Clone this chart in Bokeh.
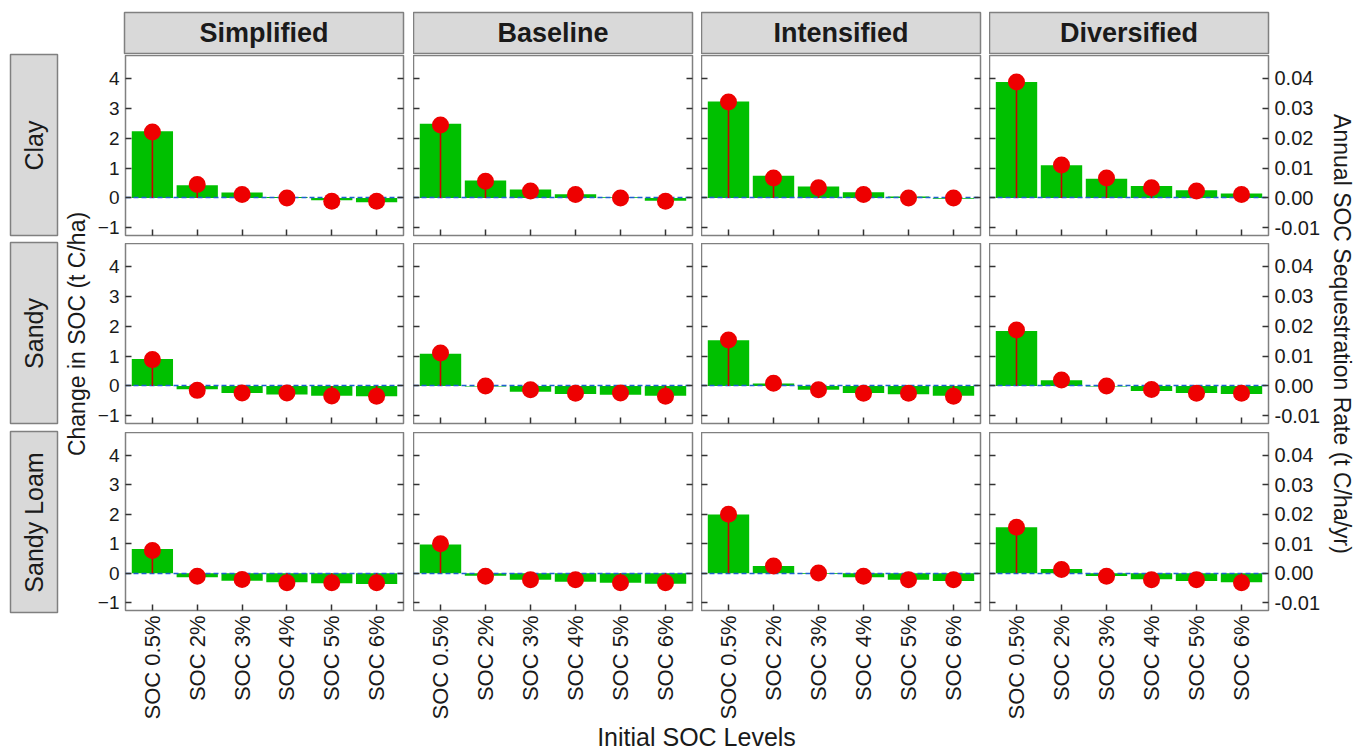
import math
from bokeh.plotting import figure
from bokeh.models import Range1d, FixedTicker, LinearAxis, CustomJSTickFormatter, NumeralTickFormatter
from bokeh.layouts import row, column
from bokeh.embed import file_html
from bokeh.resources import INLINE
from bokeh.core.properties import value

# ---------------- data ----------------
soils = ["Clay", "Sandy", "Sandy Loam"]
systems = ["Simplified", "Baseline", "Intensified", "Diversified"]
soc_levels = ["SOC 0.5%", "SOC 2%", "SOC 3%", "SOC 4%", "SOC 5%", "SOC 6%"]
left_ticks = [-1, 0, 1, 2, 3, 4]
right_ticks = [-0.01, 0.0, 0.01, 0.02, 0.03, 0.04]
y_title = "Change in SOC (t C/ha)"
y2_title = "Annual SOC Sequestration Rate (t C/ha/yr)"
x_title = "Initial SOC Levels"

# change in SOC (t C/ha) -> bars
change_clay_simplified = [2.23, 0.42, 0.18, 0.03, -0.08, -0.15]
change_clay_baseline = [2.48, 0.58, 0.28, 0.12, 0.02, -0.10]
change_clay_intensified = [3.23, 0.74, 0.38, 0.19, 0.05, -0.03]
change_clay_diversified = [3.88, 1.09, 0.64, 0.40, 0.26, 0.15]
change_sandy_simplified = [0.90, -0.11, -0.24, -0.29, -0.33, -0.35]
change_sandy_baseline = [1.08, -0.02, -0.20, -0.27, -0.30, -0.33]
change_sandy_intensified = [1.53, 0.08, -0.13, -0.24, -0.28, -0.33]
change_sandy_diversified = [1.84, 0.19, -0.02, -0.17, -0.24, -0.27]
change_loam_simplified = [0.82, -0.13, -0.25, -0.30, -0.34, -0.36]
change_loam_baseline = [0.98, -0.08, -0.22, -0.29, -0.32, -0.35]
change_loam_intensified = [1.99, 0.25, -0.02, -0.13, -0.22, -0.26]
change_loam_diversified = [1.56, 0.15, -0.09, -0.20, -0.26, -0.30]

# annual SOC sequestration rate (t C/ha/yr) -> red lollipops
rate_clay_simplified = [0.0221, 0.0045, 0.0011, 0.0000, -0.0011, -0.0011]
rate_clay_baseline = [0.0244, 0.0056, 0.0023, 0.0011, 0.0000, -0.0011]
rate_clay_intensified = [0.0321, 0.0067, 0.0034, 0.0011, 0.0000, 0.0000]
rate_clay_diversified = [0.0388, 0.0110, 0.0067, 0.0034, 0.0023, 0.0011]
rate_sandy_simplified = [0.0088, -0.0015, -0.0024, -0.0024, -0.0034, -0.0035]
rate_sandy_baseline = [0.0110, 0.0000, -0.0013, -0.0025, -0.0024, -0.0035]
rate_sandy_intensified = [0.0154, 0.0009, -0.0013, -0.0025, -0.0025, -0.0035]
rate_sandy_diversified = [0.0187, 0.0020, 0.0000, -0.0012, -0.0025, -0.0025]
rate_loam_simplified = [0.0077, -0.0010, -0.0021, -0.0032, -0.0032, -0.0032]
rate_loam_baseline = [0.0100, -0.0010, -0.0022, -0.0022, -0.0032, -0.0032]
rate_loam_intensified = [0.0200, 0.0025, 0.0001, -0.0010, -0.0022, -0.0022]
rate_loam_diversified = [0.0156, 0.0013, -0.0010, -0.0022, -0.0022, -0.0032]

change = {
    ("Clay", "Simplified"): change_clay_simplified, ("Clay", "Baseline"): change_clay_baseline,
    ("Clay", "Intensified"): change_clay_intensified, ("Clay", "Diversified"): change_clay_diversified,
    ("Sandy", "Simplified"): change_sandy_simplified, ("Sandy", "Baseline"): change_sandy_baseline,
    ("Sandy", "Intensified"): change_sandy_intensified, ("Sandy", "Diversified"): change_sandy_diversified,
    ("Sandy Loam", "Simplified"): change_loam_simplified, ("Sandy Loam", "Baseline"): change_loam_baseline,
    ("Sandy Loam", "Intensified"): change_loam_intensified, ("Sandy Loam", "Diversified"): change_loam_diversified,
}
rate = {
    ("Clay", "Simplified"): rate_clay_simplified, ("Clay", "Baseline"): rate_clay_baseline,
    ("Clay", "Intensified"): rate_clay_intensified, ("Clay", "Diversified"): rate_clay_diversified,
    ("Sandy", "Simplified"): rate_sandy_simplified, ("Sandy", "Baseline"): rate_sandy_baseline,
    ("Sandy", "Intensified"): rate_sandy_intensified, ("Sandy", "Diversified"): rate_sandy_diversified,
    ("Sandy Loam", "Simplified"): rate_loam_simplified, ("Sandy Loam", "Baseline"): rate_loam_baseline,
    ("Sandy Loam", "Intensified"): rate_loam_intensified, ("Sandy Loam", "Diversified"): rate_loam_diversified,
}

# ---------------- layout / style ----------------
FONT = "Liberation Sans"
TEXT_COL = "#1a1a1a"
BORDER_COL = "#808080"
FRAME_W, FRAME_H = 279, 180
COL_LEFT = [30, 0, 0, 0]
COL_RIGHT = [10, 9, 9, 55]
ROW_BOTTOM = [8, 9, 110]
STRIP_TOP, STRIP_H, STRIP_BOTTOM = 12, 41, 2
LEFT_W, RIGHT_W, TITLE_H = 94, 37, 28
Y_MIN, Y_MAX = -1.26, 4.77
X_MIN, X_MAX = 0.4, 6.6

xs = [i + 1 for i in range(len(soc_levels))]


def base_fig(w, h, xr, yr):
    p = figure(width=w, height=h, x_range=xr, y_range=yr, output_backend="svg",
               toolbar_location=None, x_axis_location=None, y_axis_location=None,
               background_fill_color="white", border_fill_color="white",
               outline_line_color=None)
    p.grid.visible = False
    p.min_border_left = 0
    p.min_border_right = 0
    p.min_border_top = 0
    p.min_border_bottom = 0
    return p


def style_axis(ax, show, size="19px", standoff=6):
    ax.axis_line_color = None
    ax.major_tick_in = 6
    ax.major_tick_out = 0
    ax.minor_tick_in = 0
    ax.minor_tick_out = 0
    ax.major_tick_line_color = "#333333"
    ax.major_tick_line_width = 1.5
    ax.major_label_text_font = FONT
    ax.major_label_text_color = TEXT_COL
    if show:
        ax.major_label_text_font_size = size
        ax.major_label_standoff = standoff
    else:
        ax.formatter = CustomJSTickFormatter(code="return ''")
        ax.major_label_text_font_size = "0px"
        ax.major_label_standoff = 0


def make_panel(ri, ci):
    key = (soils[ri], systems[ci])
    chg = change[key]
    rt = rate[key]
    lb, rb, bb = COL_LEFT[ci], COL_RIGHT[ci], ROW_BOTTOM[ri]
    p = base_fig(lb + FRAME_W + rb, FRAME_H + bb, Range1d(X_MIN, X_MAX), Range1d(Y_MIN, Y_MAX))
    p.min_border_left = lb
    p.min_border_right = rb
    p.min_border_bottom = bb
    p.outline_line_color = BORDER_COL
    p.outline_line_width = 1.5
    p.extra_y_ranges = {"rate": Range1d(Y_MIN / 100, Y_MAX / 100)}

    bottom = LinearAxis(ticker=FixedTicker(ticks=xs))
    if ri == len(soils) - 1:
        style_axis(bottom, True, size="22px", standoff=5)
        bottom.major_label_overrides = {x: lab for x, lab in zip(xs, soc_levels)}
        bottom.major_label_orientation = math.pi / 2
    else:
        style_axis(bottom, False)
    p.add_layout(bottom, "below")

    left = LinearAxis(ticker=FixedTicker(ticks=left_ticks))
    style_axis(left, ci == 0)
    p.add_layout(left, "left")

    right = LinearAxis(y_range_name="rate", ticker=FixedTicker(ticks=right_ticks),
                       formatter=NumeralTickFormatter(format="0.00"))
    style_axis(right, ci == len(systems) - 1, size="20px")
    p.add_layout(right, "right")

    p.vbar(x=xs, top=chg, bottom=0, width=0.92, fill_color="#00C000", line_color=None)
    p.hspan(y=[0], line_color="#1E60D0", line_dash="5 3", line_width=1.6)
    p.segment(x0=xs, y0=[0] * len(xs), x1=xs, y1=rt, y_range_name="rate",
              line_color="#CC0000", line_width=1.6)
    p.scatter(x=xs, y=rt, y_range_name="rate", size=17, fill_color="#EE0000", line_color=None)
    return p


def make_strip(ci):
    lb, rb = COL_LEFT[ci], COL_RIGHT[ci]
    p = base_fig(lb + FRAME_W + rb, STRIP_TOP + STRIP_H + STRIP_BOTTOM, Range1d(0, 1), Range1d(0, 1))
    p.min_border_left = lb
    p.min_border_right = rb
    p.min_border_top = STRIP_TOP
    p.min_border_bottom = STRIP_BOTTOM
    p.background_fill_color = "#D9D9D9"
    p.outline_line_color = BORDER_COL
    p.outline_line_width = 1.5
    p.text(x=[0.5], y=[0.5], text=[systems[ci]], text_align="center", text_baseline="middle",
           text_font=value(FONT), text_font_style="bold", text_font_size="27px", text_color=TEXT_COL)
    return p


strip_total = STRIP_TOP + STRIP_H + STRIP_BOTTOM
H_TOTAL = strip_total + sum(FRAME_H + b for b in ROW_BOTTOM) + TITLE_H
frame_tops = []
yy = strip_total
for b in ROW_BOTTOM:
    frame_tops.append(yy)
    yy += FRAME_H + b

# left decoration: row strips and y title
left_fig = base_fig(LEFT_W, H_TOTAL, Range1d(0, LEFT_W), Range1d(0, H_TOTAL))
left_fig.quad(left=[10] * 3, right=[57] * 3,
              top=[H_TOTAL - t + 1 for t in frame_tops],
              bottom=[H_TOTAL - t - FRAME_H for t in frame_tops],
              fill_color="#D9D9D9", line_color=BORDER_COL, line_width=1.5)
left_fig.text(x=[33.5] * 3, y=[H_TOTAL - t - FRAME_H / 2 for t in frame_tops], text=soils,
              angle=math.pi / 2, text_align="center", text_baseline="middle",
              text_font=value(FONT), text_font_size="25px", text_color=TEXT_COL)
mid_y = H_TOTAL - (frame_tops[0] + frame_tops[-1] + FRAME_H) / 2
left_fig.text(x=[76], y=[mid_y], text=[y_title], angle=math.pi / 2,
              text_align="center", text_baseline="middle",
              text_font=value(FONT), text_font_size="23px", text_color=TEXT_COL)

# right decoration: secondary y title
right_fig = base_fig(RIGHT_W, H_TOTAL, Range1d(0, RIGHT_W), Range1d(0, H_TOTAL))
right_fig.text(x=[18], y=[mid_y], text=[y2_title], angle=-math.pi / 2,
               text_align="center", text_baseline="middle",
               text_font=value(FONT), text_font_size="23px", text_color=TEXT_COL)

# bottom title
grid_w = sum(COL_LEFT[i] + FRAME_W + COL_RIGHT[i] for i in range(len(systems)))
title_fig = base_fig(grid_w, TITLE_H, Range1d(0, grid_w), Range1d(0, TITLE_H))
x_center = (COL_LEFT[0] + grid_w - COL_RIGHT[-1]) / 2
title_fig.text(x=[x_center], y=[TITLE_H / 2], text=[x_title], text_align="center",
               text_baseline="middle", text_font=value(FONT), text_font_size="25px",
               text_color=TEXT_COL)

strips = row([make_strip(ci) for ci in range(len(systems))], spacing=0)
panel_rows = [row([make_panel(ri, ci) for ci in range(len(systems))], spacing=0)
              for ri in range(len(soils))]
center = column([strips] + panel_rows + [title_fig], spacing=0)
layout = row([left_fig, center, right_fig], spacing=0)

open("out.html", "w").write(file_html(layout, INLINE))
